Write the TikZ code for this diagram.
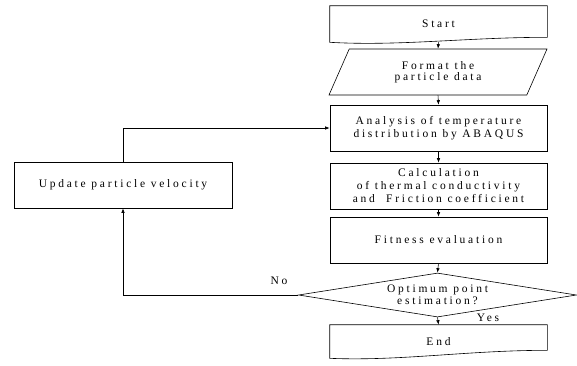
\documentclass[tikz,border=0pt]{standalone}
\usepackage{fontspec}
\setmainfont{Liberation Serif}[LetterSpace=24]
\usetikzlibrary{shapes.geometric,arrows.meta,calc}
\begin{document}
\begin{tikzpicture}[x=1pt,y=-1pt,
  line width=0.6pt,
  every node/.style={font=\fontsize{11.5}{12.5}\selectfont, inner sep=0pt, align=center},
  box/.style={draw, minimum width=217pt, minimum height=46pt},
  docbox/.style={minimum width=217pt},
  arr/.style={-{Latex[length=4.5pt,width=3.5pt]}}]
\useasboundingbox (0,0) rectangle (577,365);
% nodes
\node[docbox, minimum height=36pt] (s) at (438.5,24) {Start};
\node[draw, trapezium, trapezium left angle=46, trapezium right angle=134,
      trapezium stretches body, minimum width=218pt, minimum height=46pt] (f) at (438,72)
      {Format the\\[-2pt]particle data};
\node[box] (a) at (438.5,128) {Analysis of temperature\\distribution by ABAQUS};
\node[box, font=\fontsize{11.5}{13}\selectfont] (c) at (438.5,186) {Calculation\\of thermal conductivity\\and\ \ Friction coefficient};
\node[box] (fe) at (438.5,240) {Fitness evaluation};
\node[draw, diamond, aspect=6.32, minimum width=278pt, minimum height=44pt] (d) at (437.5,295) {Optimum point\\estimation?};
\node[docbox, minimum height=33pt] (e) at (438.5,341.5) {End};
\node[box, minimum width=218pt] (u) at (123,185) {Update particle velocity};
\node (no) at (279,281) {No};
\node (yes) at (488,318) {Yes};
% document shapes
\draw (s.north west) -- (s.north east) -- ([yshift=5pt]s.south east)
  .. controls ([xshift=-80pt,yshift=5pt]s.south east) and ([xshift=70pt,yshift=-4pt]s.south west) .. (s.south west) -- cycle;
\draw (e.north west) -- (e.north east) -- ([yshift=8pt]e.south east)
  .. controls ([xshift=-80pt,yshift=8pt]e.south east) and ([xshift=70pt,yshift=-3pt]e.south west) .. (e.south west) -- cycle;
% connectors
\draw[arr] (s.south) -- (f.north);
\draw[arr] (f.south) -- (a.north);
\draw[arr] (a.south) -- (c.north);
\draw[arr] (c.south) -- (fe.north);
\draw[arr] (fe.south) -- (d.north);
\draw[arr] (d.south) -- (e.north);
\draw[arr] (u.north) |- (a.west);
\draw[arr] (d.west) -| (u.south);
\end{tikzpicture}
\end{document}
